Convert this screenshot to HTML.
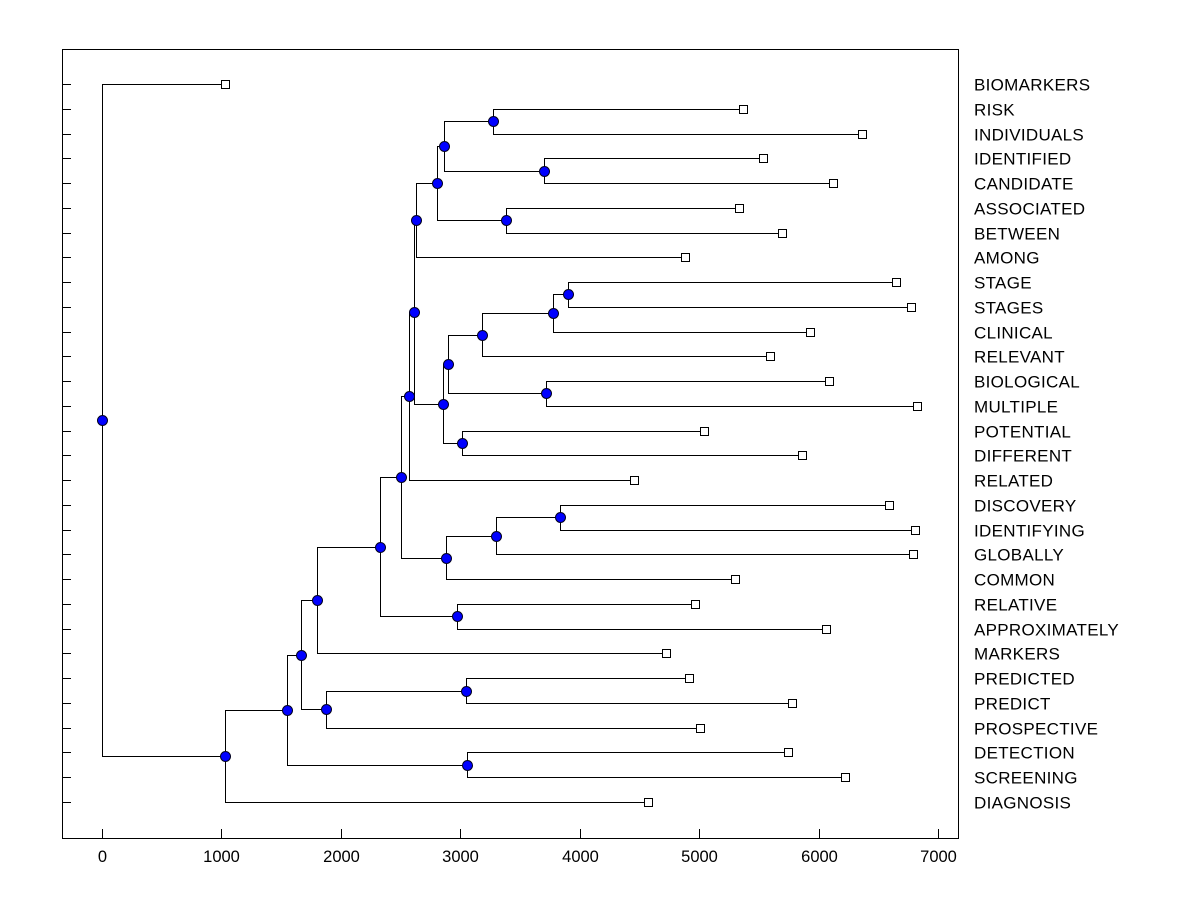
<!DOCTYPE html>
<html><head><meta charset="utf-8"><style>body{margin:0;background:#fff}svg{display:block}text{font-family:"Liberation Sans",Arial,sans-serif}</style></head>
<body>
<svg id="c" width="1200" height="900"></svg>
<script>
const labels=["BIOMARKERS","RISK","INDIVIDUALS","IDENTIFIED","CANDIDATE","ASSOCIATED","BETWEEN","AMONG","STAGE","STAGES","CLINICAL","RELEVANT","BIOLOGICAL","MULTIPLE","POTENTIAL","DIFFERENT","RELATED","DISCOVERY","IDENTIFYING","GLOBALLY","COMMON","RELATIVE","APPROXIMATELY","MARKERS","PREDICTED","PREDICT","PROSPECTIVE","DETECTION","SCREENING","DIAGNOSIS"];
const leafValues=[1030,5367,6364,5535,6121,5334,5694,4881,6648,6774,5928,5593,6087,6824,5041,5861,4454,6590,6807,6791,5300,4965,6062,4722,4915,5777,5007,5744,6221,4572];
const mergeLeft=[1,3,5,30,33,34,8,36,37,12,38,14,40,35,43,17,45,46,44,21,48,50,24,52,51,27,54,56,0];
const mergeRight=[2,4,6,31,32,7,9,10,11,13,39,15,41,42,16,18,19,20,47,22,49,23,25,26,53,28,55,29,57];
const mergeHeight=[3274,3701,3383,2864,2805,2629,3902,3776,3182,3718,2897,3014,2855,2612,2570,3835,3299,2880,2504,2972,2328,1800,3048,1876,1666,3056,1549,1030,0];
const xTicks=[0,1000,2000,3000,4000,5000,6000,7000];
const NS="http://www.w3.org/2000/svg",svg=document.getElementById('c');
const L=62,R=958,T=49,B=838;
const sx=v=>102+v*(938-102)/7000;
const sy=i=>84+i*(802-84)/29;
function mk(tag,at,parent){const e=document.createElementNS(NS,tag);for(const k in at)e.setAttribute(k,at[k]);(parent||svg).appendChild(e);return e;}
const frame=mk('rect',{x:L+.5,y:T+.5,width:R-L,height:B-T,fill:'none',stroke:'#000'});


labels.forEach((lab,i)=>{
 const y=Math.round(sy(i))+.5;
 const t=mk('line',{x1:L,y1:y,x2:L+9,y2:y,stroke:'#000'});
 
 
 const tx=mk('text',{x:974,y:y+6,'font-size':17,'letter-spacing':0.3});
 tx.textContent=lab;
 
 
});
xTicks.forEach(v=>{
 const x=Math.round(sx(v))+.5;
 const t=mk('line',{x1:x,y1:B,x2:x,y2:B-9,stroke:'#000'});
 
 
 const tx=mk('text',{x:x,y:862,'font-size':16.5,'text-anchor':'middle'});
 tx.textContent=v;
 
 
});
const nx=[],ny=[];
leafValues.forEach((v,i)=>{nx[i]=sx(v);ny[i]=sy(i);});
mergeHeight.forEach((h,k)=>{const id=30+k,a=mergeLeft[k],b=mergeRight[k];nx[id]=sx(h);ny[id]=(ny[a]+ny[b])/2;});
const g=mk('g',{stroke:'#000','stroke-width':1,fill:'none'});


mergeHeight.forEach((h,k)=>{
 const id=30+k,a=mergeLeft[k],b=mergeRight[k],x=Math.round(nx[id])+.5;
 const ya=Math.round(ny[a])+.5,yb=Math.round(ny[b])+.5;
 const p=mk('path',{d:`M${Math.round(nx[a])},${ya}H${x}V${yb}H${Math.round(nx[b])}`},g);
 
 
});
leafValues.forEach((v,i)=>{
 const r=mk('rect',{x:Math.round(nx[i])-3.5,y:Math.round(ny[i])-3.5,width:8,height:8,fill:'#fff',stroke:'#000'});
 
 
});
mergeHeight.forEach((h,k)=>{
 const id=30+k;
 const c=mk('circle',{cx:Math.round(nx[id])+.5,cy:Math.round(ny[id])+.5,r:5,fill:'#0000ff',stroke:'#000020'});
 
 
});
</script>
</body></html>
